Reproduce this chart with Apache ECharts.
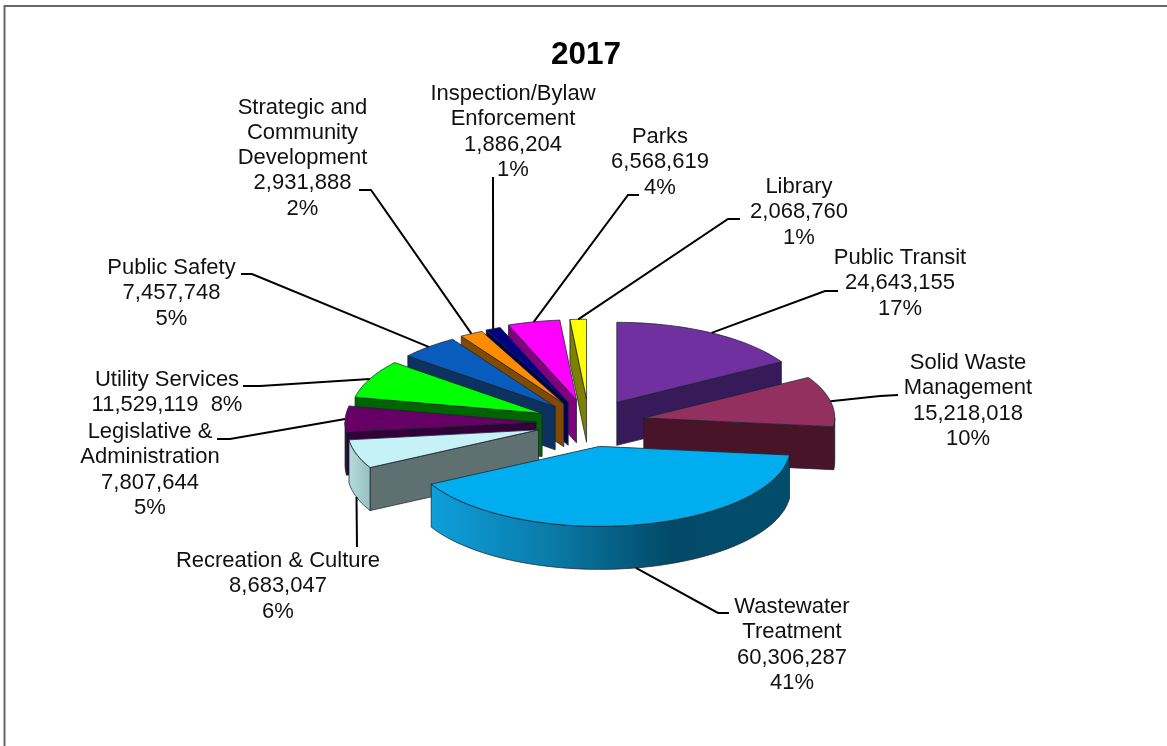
<!DOCTYPE html>
<html><head><meta charset="utf-8">
<style>html,body{margin:0;padding:0;background:#fff}#c{width:1167px;height:746px}</style>
<script src="https://cdn.jsdelivr.net/npm/echarts@6/dist/echarts.min.js"></script>
</head><body><div id="c"></div>
<script>
// Data, clockwise from 12 o'clock
const categories = ['Public Transit','Solid Waste Management','Wastewater Treatment','Recreation & Culture','Legislative & Administration','Utility Services','Public Safety','Strategic and Community Development','Inspection/Bylaw Enforcement','Parks','Library'];
const values = [24643155,15218018,60306287,8683047,7807644,11529119,7457748,2931888,1886204,6568619,2068760];
const percents = ['17%','10%','41%','6%','5%','8%','5%','2%','1%','4%','1%'];
const topColors = ['#7030a0','#933060','#00aeef','#c6f1f6','#660066','#00ff00','#0a5cbc','#ff8c00','#000080','#ff00ff','#ffff00'];
const wallColors = ['#361a5a','#4a1428','#045a7c','#5f7070','#33003a','#006400','#0c3360','#804a00','#000050','#800080','#808000'];
const arcColors = [['#361a5a','#361a5a'],['#4a1428','#4a1428'],['#0e9fdb','#0a7ba8','#024a68','#034d6c'],['#b4dcdc','#98c0c0'],['#33003a','#33003a'],['#006400','#006400'],['#0c3360','#0c3360'],['#804a00','#804a00'],['#000050','#000050'],['#800080','#800080'],['#808000','#808000']];
const labelLines = [['Public Transit','24,643,155','17%'],['Solid Waste','Management','15,218,018','10%'],['Wastewater','Treatment','60,306,287','41%'],['Recreation & Culture','8,683,047','6%'],['Legislative &','Administration','7,807,644','5%'],['Utility Services','11,529,119  8%'],['Public Safety','7,457,748','5%'],['Strategic and','Community','Development','2,931,888','2%'],['Inspection/Bylaw','Enforcement','1,886,204','1%'],['Parks','6,568,619','4%'],['Library','2,068,760','1%']];
const drawOrder = [10,9,8,7,6,5,4,3,0,1,2];

// Layout of the 3D view
const view = {cx:589, cy:423, a:191, b:80, depth:43, ratio:0.425};
const explode = [56,56,56,53,53,52,51,52,53,56,56];
const labelCenterX = [900,968,792,278,150,167,171.5,302.5,513,660,799];
const labelFirstY  = [258,363,607,561,432,380,268,107.5,94,137,187];
const labelLineGap = 25.3;
const elbowStart = [[825,291],[880,396],[718,613],[357,547],[230,439],[260,386],[252,274],[371,190],[493,177],[628,195],[728,219]];
const elbowEnd   = [[838,291],[898,395],[729,613],null,[217,439],[243,386],[241,274],[359,190],null,[639,195],[740,219]];

const total = values.reduce((s,v)=>s+v,0);
const angles = []; let run = 0;
values.forEach(v=>{const s=run/total*360; run+=v; angles.push([s,run/total*360]);});
const rad = d=>d*Math.PI/180;
function apex(i){const m=rad((angles[i][0]+angles[i][1])/2);
  return [view.cx+explode[i]*Math.sin(m), view.cy-explode[i]*view.ratio*Math.cos(m)];}
function rim(i,deg,drop){const p=apex(i),t=rad(deg);
  return [p[0]+view.a*Math.sin(t), p[1]-view.b*Math.cos(t)+(drop||0)];}
function arcPts(i,from,to,drop){const n=Math.max(2,Math.ceil((to-from)/2)),out=[];
  for(let k=0;k<=n;k++) out.push(rim(i,from+(to-from)*k/n,drop)); return out;}
const edge='rgba(25,35,45,0.75)';
function poly(points,fill){return {type:'polygon',shape:{points},style:{fill,stroke:edge,lineWidth:1,lineJoin:'round'}};}

function renderSlice(params,api){
  const i=api.value(0),[s,e]=angles[i],p=apex(i),d=view.depth,kids=[];
  const q=[p[0],p[1]+d];
  if(s>180&&s<360){const c=rim(i,s);kids.push(poly([p,c,[c[0],c[1]+d],q],wallColors[i]));}
  if(e>0&&e<180){const c=rim(i,e);kids.push(poly([p,c,[c[0],c[1]+d],q],wallColors[i]));}
  const f=Math.max(s,90),t=Math.min(e,270);
  if(t>f){
    const top=arcPts(i,f,t,0),bot=arcPts(i,f,t,d).reverse();
    const stops=arcColors[i].map((c,k,arr)=>({offset:k/(arr.length-1),color:c}));
    kids.push(poly(top.concat(bot),{type:'linear',x:0,y:0,x2:1,y2:0,colorStops:stops}));
  }
  kids.push(poly([p].concat(arcPts(i,s,e,0)),topColors[i]));
  return {type:'group',children:kids};
}
function renderLabel(params,api){
  const i=api.value(0),[s,e]=angles[i],m=(s+e)/2;
  const start=rim(i,m,(m>100&&m<260)?view.depth:0);
  const pts=[start,elbowStart[i]]; if(elbowEnd[i]) pts.push(elbowEnd[i]);
  const kids=[{type:'polyline',shape:{points:pts},style:{fill:'none',stroke:'#000',lineWidth:2}}];
  labelLines[i].forEach((t,k)=>kids.push({type:'text',style:{text:t,x:labelCenterX[i],y:labelFirstY[i]+k*labelLineGap,
    textAlign:'center',textVerticalAlign:'middle',fill:'#111',font:'22px "Liberation Sans", Arial, sans-serif'}}));
  return {type:'group',children:kids};
}
const chart=echarts.init(document.getElementById('c'),null,{renderer:'canvas'});
chart.setOption({
  animation:false,backgroundColor:'#fff',
  title:{text:'2017',left:546,top:34,textStyle:{fontFamily:'"Liberation Sans"',fontSize:31.5,fontWeight:'bold',color:'#000'}},
  graphic:[{type:'polyline',shape:{points:[[4.5,746],[4.5,6],[1167,6]]},style:{fill:'none',stroke:'#666',lineWidth:2},silent:true}],
  xAxis:{show:false},yAxis:{show:false},
  series:[
    {type:'custom',coordinateSystem:'none',renderItem:renderSlice,data:drawOrder.map(i=>[i]),z:2,silent:true},
    {type:'custom',coordinateSystem:'none',renderItem:renderLabel,data:categories.map((c,i)=>[i]),z:3,silent:true}
  ]
});
</script></body></html>
